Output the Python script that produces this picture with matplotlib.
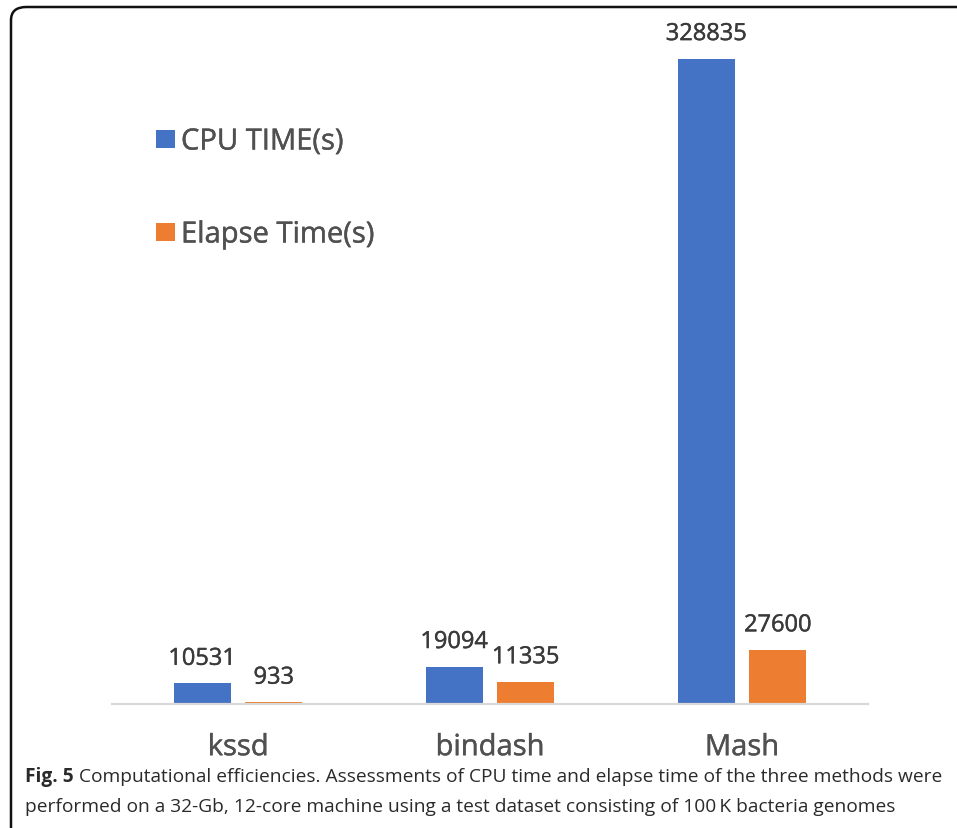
import matplotlib
matplotlib.use("Agg")
import matplotlib.pyplot as plt
import matplotlib.patheffects as pe
from matplotlib.patches import FancyBboxPatch, Rectangle
import numpy as np

# Benchmark results
methods = ["kssd", "bindash", "Mash"]
cpu_time = [10531, 19094, 328835]
elapse_time = [933, 11335, 27600]
series_names = ["CPU TIME(s)", "Elapse Time(s)"]

BLUE = "#4472C4"
ORANGE = "#ED7D31"
TEXT = "#3A3A3A"
CAT_TEXT = "#505050"
CAPTION = "#2A2A2A"

W, H = 957, 829
DPI = 100
fig = plt.figure(figsize=(W / DPI, H / DPI), dpi=DPI)
fig.patch.set_facecolor("white")

def px(x, y):
    """Convert pixel coordinates (from top-left) to figure fraction."""
    return x / W, 1 - y / H

def heavy(color):
    """Slightly thicken glyphs with a thin outline of the same colour."""
    return [pe.withStroke(linewidth=0.3, foreground=color)]

plt.rcParams["font.family"] = ["Open Sans", "DejaVu Sans"]

# Axes area: baseline at y=705, x from 112 to 868
ax_left, ax_right = 112, 868
ax_top, ax_bottom = 20, 705
l, b = px(ax_left, ax_bottom)
ax = fig.add_axes([l, b, (ax_right - ax_left) / W, (ax_bottom - ax_top) / H])

x = np.arange(len(methods))
bw = 0.226
off = 0.142
bars_cpu = ax.bar(x - off, cpu_time, bw, color=BLUE, label=series_names[0])
bars_el = ax.bar(x + off, elapse_time, bw, color=ORANGE, label=series_names[1])

ax.set_xlim(-0.5, len(methods) - 0.5)
ax.set_ylim(0, 349000)

for bars, vals in ((bars_cpu, cpu_time), (bars_el, elapse_time)):
    for rect, v in zip(bars, vals):
        ax.annotate(f"{v}", (rect.get_x() + rect.get_width() / 2, v),
                    xytext=(0, 9), textcoords="offset points",
                    ha="center", va="bottom", fontsize=17, color=TEXT,
                    path_effects=heavy(TEXT))

for s in ("top", "right", "left"):
    ax.spines[s].set_visible(False)
ax.spines["bottom"].set_color("#D9D9D9")
ax.spines["bottom"].set_linewidth(1.6)
ax.set_yticks([])
ax.set_xticks(x)
ax.set_xticklabels(methods, fontsize=21, color=CAT_TEXT)
for lab in ax.get_xticklabels():
    lab.set_path_effects(heavy(CAT_TEXT))
ax.tick_params(axis="x", length=0, pad=21)
ax.patch.set_alpha(0)

# Legend entries
for i, (name, col) in enumerate(zip(series_names, (BLUE, ORANGE))):
    cy = 141 + i * 93
    sx, sy = px(156, cy + 8)
    fig.patches.append(Rectangle((sx, sy), 19 / W, 18 / H, transform=fig.transFigure,
                                 facecolor=col, edgecolor="none"))
    tx, ty = px(181, cy + 2)
    fig.text(tx, ty, name, fontsize=21, color=CAT_TEXT, va="center", ha="left",
             path_effects=heavy(CAT_TEXT))

# Caption
cx, cy1 = px(25, 782)
t1 = fig.text(cx, cy1, "Fig. 5", fontsize=13.8, fontweight="bold", color=CAPTION,
              va="baseline", ha="left")
fig.canvas.draw()
bb = t1.get_window_extent()
fig.text((bb.x1 + 5) / W, cy1,
         "Computational efficiencies. Assessments of CPU time and elapse time of the three methods were",
         fontsize=13.8, color=CAPTION, va="baseline", ha="left")
_, cy2 = px(25, 812)
fig.text(cx, cy2,
         "performed on a 32-Gb, 12-core machine using a test dataset consisting of 100\u2009K bacteria genomes",
         fontsize=13.8, color=CAPTION, va="baseline", ha="left")

# Frame around the figure panel
fx, fy = px(11, 860)
frame = FancyBboxPatch((fx, fy), 1100 / W, (860 - 8) / H,
                       boxstyle="round,pad=0,rounding_size=0.016",
                       transform=fig.transFigure, facecolor="none",
                       edgecolor="#111111", linewidth=1.8, clip_on=False)
fig.patches.append(frame)

fig.savefig("out.png", dpi=DPI)
